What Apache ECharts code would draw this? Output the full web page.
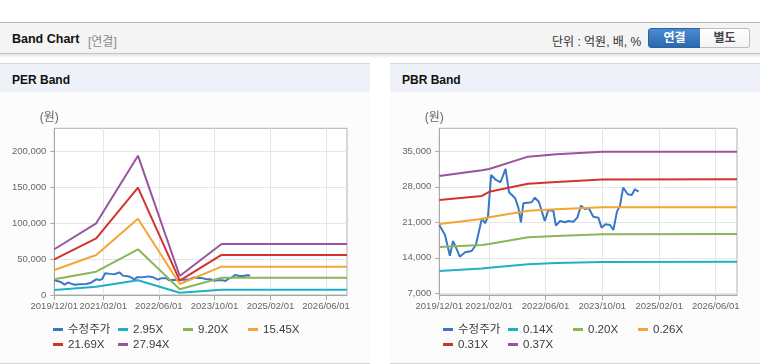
<!DOCTYPE html>
<html><head><meta charset="utf-8">
<script src="https://cdn.jsdelivr.net/npm/echarts@6/dist/echarts.min.js"></script>
<style>
html,body{margin:0;padding:0}
body{width:760px;height:364px;overflow:hidden;background:#fff;position:relative;font-family:'Liberation Sans','Noto Sans CJK KR',sans-serif}
.hdr{position:absolute;left:0;top:22px;width:760px;height:30px;background:#f4f4f4;border-top:1px solid #b8b8b8;border-bottom:1px solid #c4c4c4;box-shadow:0 2px 3px rgba(0,0,0,.12)}
.hdr .t{position:absolute;left:12px;top:8.5px;font-size:12.5px;font-weight:bold;color:#111}
.hdr .s{position:absolute;left:88px;top:9px;font-size:12px;color:#8a8a8a}
.hdr .u{position:absolute;left:552px;top:9px;font-size:12px;color:#333}
.b1{position:absolute;left:648px;top:5px;width:51px;height:18px;border:1px solid #2a62a3;border-radius:3px 0 0 3px;background:linear-gradient(#4a8bcf,#2c68ad);color:#fff;font-size:12px;font-weight:bold;text-align:center;line-height:18px}
.b2{position:absolute;left:700px;top:5px;width:49px;height:18px;border:1px solid #bdbdbd;border-left:none;border-radius:0 3px 3px 0;background:linear-gradient(#fff,#f3f3f3);color:#444;font-size:12px;font-weight:bold;text-align:center;line-height:18px}
.pn{position:absolute;top:63px;height:299px;background:#fcfcfc;border-top:1px solid #d8d8d8;border-bottom:1px solid #d8d8d8}
.pn .tb{position:absolute;left:0;top:0;right:0;height:28px;background:#eef2f8}
.pn .tt{position:absolute;left:12px;top:9px;font-size:12px;font-weight:bold;color:#111}
#c{position:absolute;left:0;top:0;width:760px;height:364px}
</style></head>
<body>
<div class="hdr"><span class="t">Band Chart</span><span class="s">[연결]</span><span class="u">단위 : 억원, 배, %</span><div class="b1">연결</div><div class="b2">별도</div></div>
<div class="pn" style="left:0;width:370px"><div class="tb"></div><span class="tt">PER Band</span></div>
<div class="pn" style="left:390px;width:370px"><div class="tb"></div><span class="tt">PBR Band</span></div>
<div id="c"></div>
<script>
// ---- data ----
const xTickLabels = ['2019/12/01','2021/02/01','2022/06/01','2023/10/01','2025/02/01','2026/06/01'];
const xMin = '2019/12/01', xMax = '2026/12/01';

const priceDates = ['2019/12/01','2020/01/19','2020/03/01','2020/03/28','2020/04/19','2020/05/25','2020/07/10','2020/09/04','2020/10/10','2020/12/01','2020/12/28','2021/01/22','2021/02/18','2021/04/01','2021/05/10','2021/06/22','2021/07/22','2021/09/13','2021/10/10','2021/11/01','2021/11/22','2022/02/01','2022/03/01','2022/04/04','2022/05/25','2022/06/25','2022/08/07','2022/08/28','2022/10/04','2022/11/16','2022/12/13','2023/01/25','2023/03/01','2023/04/01','2023/05/04','2023/06/07','2023/07/16','2023/08/28','2023/09/25','2023/10/28','2023/12/07','2024/01/04','2024/02/04','2024/03/01','2024/03/28','2024/05/07','2024/06/10','2024/07/07','2024/08/07'];
const priceValues = [20470,18500,14410,17300,16190,14220,15085,15340,16525,21790,20800,22100,30330,29340,28890,31510,26920,25730,23880,21000,24750,24950,25850,25060,21260,23430,23230,20330,21260,21000,21260,21120,21910,24280,23620,23760,22100,21910,19940,20610,20470,19480,23090,24280,27830,26520,26380,27510,27040];

const perNames = ['2.95X','9.20X','15.45X','21.69X','27.94X'];
const perDates = ['2019/12/01','2020/12/01','2021/12/01','2022/12/01','2023/12/01','2026/12/01'];
const per295  = [6900, 11500, 20400, 3200, 7400, 7400];
const per920  = [21800, 32400, 63500, 7900, 24000, 24000];
const per1545 = [34700, 55600, 106000, 15300, 39300, 39300];
const per2169 = [49600, 78700, 149000, 19900, 55600, 55600];
const per2794 = [63500, 99600, 193500, 26400, 70800, 70800];
const perYTicks = [0, 50000, 100000, 150000, 200000];

const pbrNames = ['0.14X','0.20X','0.26X','0.31X','0.37X'];
const pbrDates = ['2019/12/01','2020/12/01','2021/02/01','2022/01/01','2022/09/01','2023/10/01','2026/12/01'];
const pbr014 = [11400, 11900, 12050, 12720, 12950, 13170, 13200];
const pbr020 = [16130, 16520, 16700, 18040, 18300, 18650, 18690];
const pbr026 = [20670, 21650, 22000, 23290, 23550, 23960, 23960];
const pbr031 = [25400, 26190, 27000, 28600, 28950, 29450, 29480];
const pbr037 = [30130, 31250, 31500, 33940, 34410, 34920, 34920];
const pbrYTicks = [7000, 14000, 21000, 28000, 35000];

const priceName = '수정주가';
const colors = ['#3878c6','#21afc5','#8cb559','#f5a532','#d3332d','#96559d'];

// ---- build ----
const toTs = s => { const p = s.split(/[\/-]/).map(Number); return new Date(p[0], p[1]-1, p[2]).getTime(); };
const pairs = (dates, vals) => dates.map((d, i) => [toTs(d), vals[i]]);
const fmtDate = v => { const d = new Date(v); const m = d.getMonth()+1, dd = d.getDate(); return d.getFullYear() + '/' + (m<10?'0':'') + m + '/' + (dd<10?'0':'') + dd; };
const tickTs = xTickLabels.map(toTs);
const FONT = "'Liberation Sans','Noto Sans CJK KR',sans-serif";

function xAxis(gi) {
  return {type:'value', gridIndex:gi, min:toTs(xMin), max:toTs(xMax),
    axisLine:{show:true, lineStyle:{color:'#a8a8a8'}},
    axisTick:{show:true, length:5, customValues:tickTs, lineStyle:{color:'#a8a8a8'}},
    axisLabel:{customValues:tickTs, formatter:(v)=>fmtDate(v), color:'#666', fontSize:9.5, fontFamily:FONT, margin:7, hideOverlap:false},
    splitLine:{show:true, lineStyle:{color:'#e6e6e6'}}};
}
function yAxis(gi, min, max, ticks) {
  return {type:'value', gridIndex:gi, min:min, max:max, name:'(원)', nameLocation:'end', nameGap:5,
    nameTextStyle:{color:'#666', fontSize:12, fontFamily:FONT, padding:[0,10,0,0]},
    axisLine:{show:true, lineStyle:{color:'#a8a8a8'}},
    axisTick:{show:true, length:4, customValues:ticks, lineStyle:{color:'#a8a8a8'}},
    axisLabel:{customValues:ticks, formatter:(v)=>v.toLocaleString('en-US'), color:'#666', fontSize:9.5, fontFamily:FONT, margin:8},
    splitLine:{show:true, lineStyle:{color:'#e6e6e6'}}};
}
function line(name, data, color, gi) {
  return {type:'line', name:name, xAxisIndex:gi, yAxisIndex:gi, data:data, showSymbol:false, symbol:'none',
    lineStyle:{width:2, color:color}, itemStyle:{color:color}, emphasis:{disabled:true}, animation:false};
}
function legend(left, names) {
  return {left:left, top:322, width:262, itemWidth:10, itemHeight:3, itemGap:0, icon:'rect', padding:0,
    textStyle:{fontSize:11.5, color:'#3a3a3a', width:50, lineHeight:15, fontFamily:FONT}, data:names};
}

const perBands = [per295, per920, per1545, per2169, per2794];
const pbrBands = [pbr014, pbr020, pbr026, pbr031, pbr037];
const series = [line(priceName, pairs(priceDates, priceValues), colors[0], 0)];
perBands.forEach((b, i) => series.push(line(perNames[i], pairs(perDates, b), colors[i+1], 0)));
series.push(line(priceName, pairs(priceDates, priceValues), colors[0], 1));
pbrBands.forEach((b, i) => series.push(line(pbrNames[i], pairs(pbrDates, b), colors[i+1], 1)));

const chart = echarts.init(document.getElementById('c'), null, {renderer:'canvas'});
chart.setOption({
  animation:false,
  backgroundColor:'transparent',
  grid:[
    {left:54.3, top:128.3, right:413, bottom:69, show:true, borderColor:'#b0b0b0', backgroundColor:'#fff', containLabel:false},
    {left:439.3, top:128.3, right:23, bottom:69, show:true, borderColor:'#b0b0b0', backgroundColor:'#fff', containLabel:false}
  ],
  xAxis:[xAxis(0), xAxis(1)],
  yAxis:[yAxis(0, 0, 231500, perYTicks), yAxis(1, 6660, 39530, pbrYTicks)],
  legend:[legend(53, [priceName].concat(perNames)), legend(443, [priceName].concat(pbrNames))],
  series:series
});
</script>
</body></html>
